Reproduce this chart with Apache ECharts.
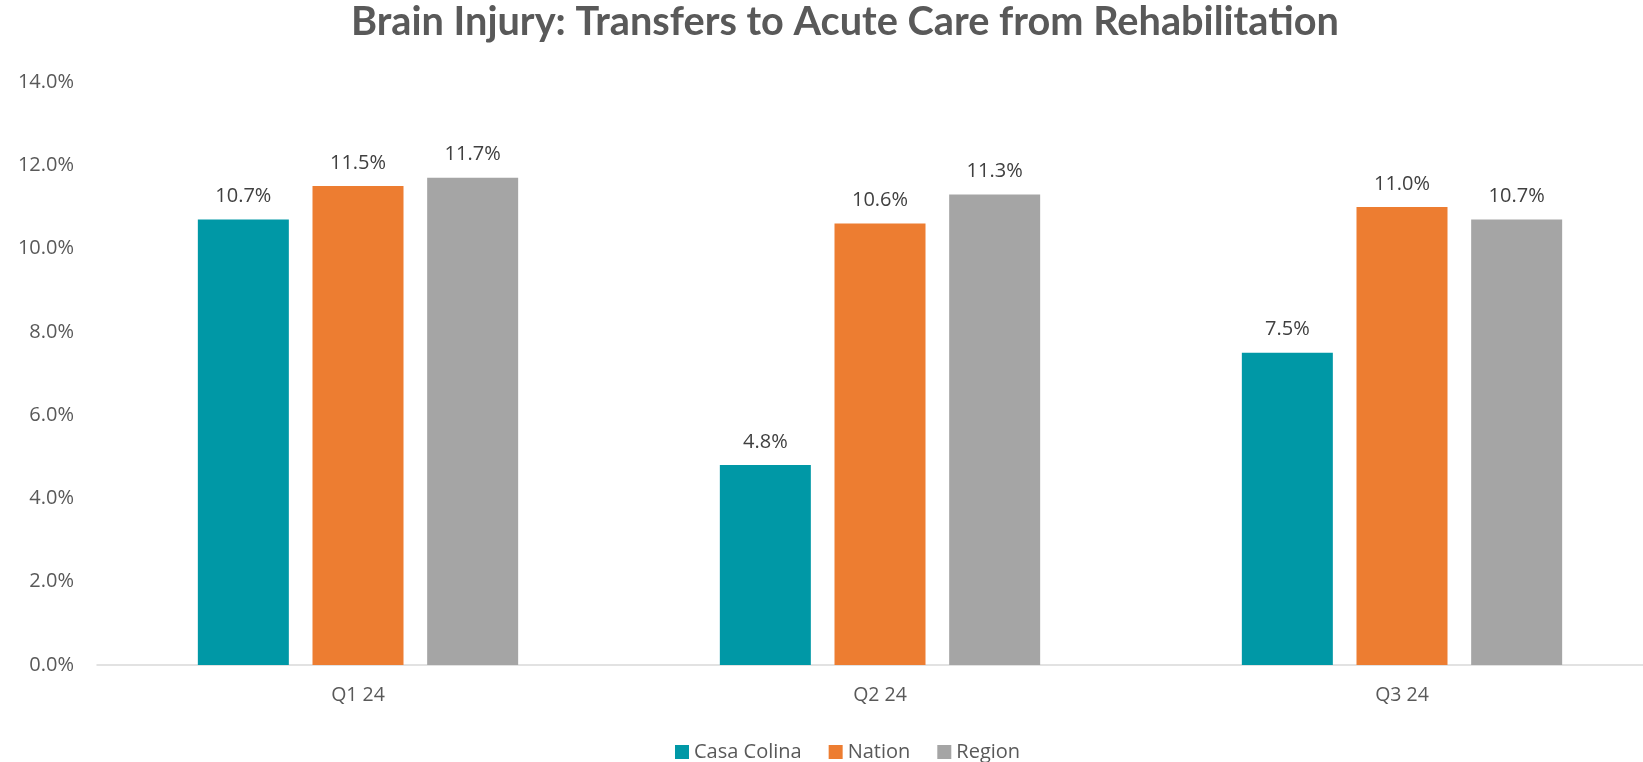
<!DOCTYPE html>
<html>
<head>
<meta charset="utf-8">
<script src="https://cdn.jsdelivr.net/npm/echarts@6/dist/echarts.min.js"></script>
<style>
  html, body { margin: 0; padding: 0; background: #fff; }
  #main { width: 1643px; height: 762px; }
</style>
</head>
<body>
<div id="main"></div>
<script>
var quarters = ['Q1 24', 'Q2 24', 'Q3 24'];
var casaColina = [10.7, 4.8, 7.5];
var nation = [11.5, 10.6, 11.0];
var region = [11.7, 11.3, 10.7];

var dom = document.getElementById('main');
var myChart = echarts.init(dom, null, { renderer: 'canvas' });

var pct = function (v) { return Number(v).toFixed(1) + '%'; };

var labelStyle = {
  show: true,
  position: 'top',
  distance: 13,
  fontFamily: 'Open Sans',
  fontSize: 20,
  color: '#404040',
  formatter: function (p) { return pct(p.value); }
};

var option = {
  backgroundColor: '#fff',
  animation: false,
  title: {
    text: 'Brain Injury: Transfers to Acute Care from Rehabilitation',
    left: 351,
    top: 2,
    padding: 0,
    textStyle: {
      fontFamily: 'Lato',
      fontWeight: 'bold',
      fontSize: 39.7,
      color: '#595959'
    }
  },
  legend: {
    data: ['Casa Colina', 'Nation', 'Region'],
    left: 670,
    top: 737,
    icon: 'rect',
    itemWidth: 14,
    itemHeight: 14,
    itemGap: 27,
    textStyle: { fontFamily: 'Open Sans', fontSize: 20, color: '#595959' }
  },
  grid: {
    left: 97,
    width: 1566,
    top: 82,
    bottom: 97,
    outerBoundsMode: 'none'
  },
  xAxis: {
    type: 'category',
    data: quarters,
    axisTick: { show: false },
    axisLine: { lineStyle: { color: '#d9d9d9', width: 1.5 } },
    axisLabel: { margin: 20, fontFamily: 'Open Sans', fontSize: 19.5, color: '#595959' }
  },
  yAxis: {
    type: 'value',
    min: 0,
    max: 14,
    interval: 2,
    splitLine: { show: false },
    axisLine: { show: false },
    axisTick: { show: false },
    axisLabel: {
      margin: 23,
      fontFamily: 'Open Sans',
      fontSize: 20,
      color: '#595959',
      formatter: pct
    }
  },
  series: [
    {
      name: 'Casa Colina',
      type: 'bar',
      data: casaColina,
      barWidth: 91,
      barGap: '26%',
      itemStyle: { color: '#0098A6' },
      label: labelStyle
    },
    {
      name: 'Nation',
      type: 'bar',
      data: nation,
      barWidth: 91,
      barGap: '26%',
      itemStyle: { color: '#ED7D31' },
      label: labelStyle
    },
    {
      name: 'Region',
      type: 'bar',
      data: region,
      barWidth: 91,
      barGap: '26%',
      itemStyle: { color: '#A5A5A5' },
      label: labelStyle
    }
  ]
};

myChart.setOption(option);
window.addEventListener('resize', myChart.resize);
</script>
</body>
</html>
